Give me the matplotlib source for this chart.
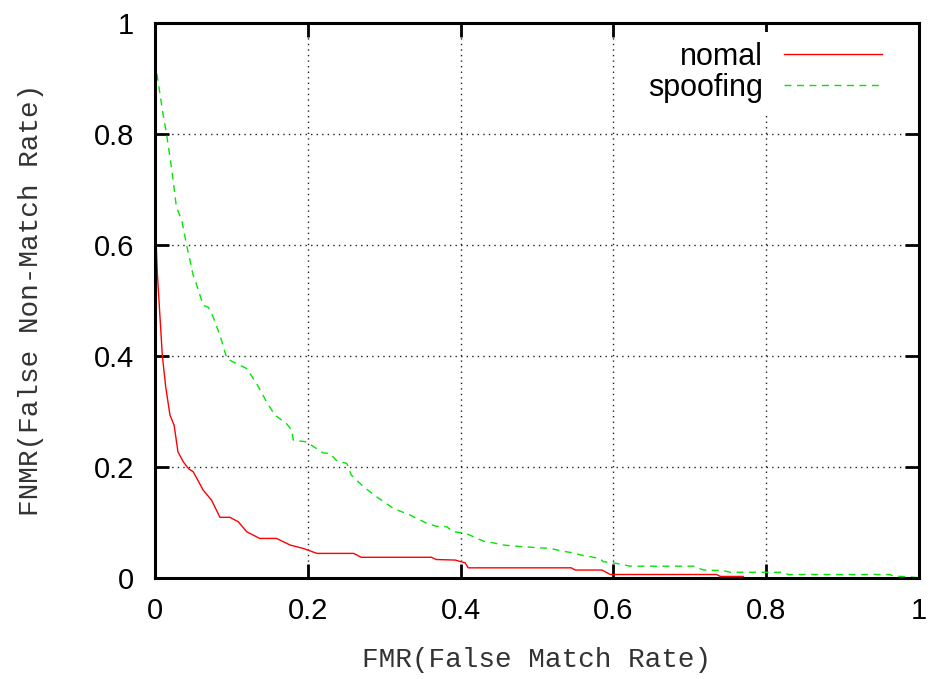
import matplotlib
matplotlib.use("Agg")
import matplotlib.pyplot as plt

# DET curves: FMR (x) vs FNMR (y)
normal_fmr = [0.0, 0.001, 0.003, 0.0065, 0.0096, 0.014, 0.0196, 0.025, 0.030, 0.037,
              0.0436, 0.050, 0.056, 0.063, 0.074, 0.085, 0.098, 0.109, 0.120, 0.137,
              0.159, 0.177, 0.194, 0.212, 0.260, 0.270, 0.362, 0.368, 0.393, 0.406,
              0.410, 0.545, 0.550, 0.585, 0.596, 0.735, 0.740, 0.770]
normal_fnmr = [0.68, 0.62, 0.55, 0.47, 0.40, 0.344, 0.293, 0.275, 0.227, 0.209,
               0.197, 0.191, 0.176, 0.158, 0.140, 0.109, 0.109, 0.101, 0.083, 0.071,
               0.071, 0.059, 0.053, 0.044, 0.044, 0.037, 0.037, 0.033, 0.032, 0.027,
               0.018, 0.018, 0.014, 0.014, 0.006, 0.006, 0.0025, 0.0025]

spoof_fmr = [0.0, 0.003, 0.011, 0.015, 0.022, 0.028, 0.035, 0.041, 0.050, 0.054,
             0.063, 0.070, 0.076, 0.081, 0.087, 0.094, 0.102, 0.120, 0.133, 0.146,
             0.157, 0.172, 0.179, 0.181, 0.198, 0.220, 0.229, 0.237, 0.251, 0.257,
             0.273, 0.290, 0.312, 0.334, 0.356, 0.368, 0.382, 0.390, 0.404, 0.412,
             0.430, 0.443, 0.456, 0.482, 0.517, 0.534, 0.547, 0.558, 0.582, 0.587,
             0.604, 0.622, 0.705, 0.718, 0.744, 0.753, 0.822, 0.829, 0.962, 0.967,
             0.986, 1.0]
spoof_fnmr = [0.93, 0.903, 0.831, 0.80, 0.735, 0.668, 0.644, 0.602, 0.545, 0.53,
              0.491, 0.487, 0.47, 0.452, 0.428, 0.395, 0.389, 0.377, 0.35, 0.317,
              0.293, 0.278, 0.266, 0.248, 0.245, 0.225, 0.224, 0.212, 0.206, 0.185,
              0.164, 0.146, 0.125, 0.113, 0.098, 0.093, 0.092, 0.083, 0.081, 0.077,
              0.066, 0.063, 0.059, 0.056, 0.053, 0.048, 0.045, 0.041, 0.035, 0.029,
              0.026, 0.021, 0.021, 0.014, 0.013, 0.010, 0.010, 0.006, 0.006, 0.003,
              0.002, 0.0]

ticks = [0, 0.2, 0.4, 0.6, 0.8, 1]
tick_labels = ["0", "0.2", "0.4", "0.6", "0.8", "1"]

plt.rcParams["font.family"] = ["Liberation Sans", "DejaVu Sans"]

fig = plt.figure(figsize=(9.31, 6.79), dpi=100)
ax = fig.add_axes([0.1665, 0.149, 0.8205, 0.8176])

ax.plot(normal_fmr, normal_fnmr, color="#ff0000", lw=1.0, label="nomal")
ax.plot(spoof_fmr, spoof_fnmr, color="#00e600", lw=1.0, dashes=(5, 4),
        label="spoofing")

ax.set_xlim(0, 1)
ax.set_ylim(0, 1)
ax.set_xticks(ticks)
ax.set_xticklabels(tick_labels)
ax.set_yticks(ticks)
ax.set_yticklabels(tick_labels)
ax.tick_params(direction="in", length=10, width=2, labelsize=21, pad=14,
               top=True, right=True)
ax.tick_params(axis="y", pad=15)
for s in ax.spines.values():
    s.set_linewidth(2.2)

ax.grid(True, color="#222222", linestyle=(0, (1, 3)), linewidth=1.0)

ax.set_xlabel("FMR(False Match Rate)", family="Liberation Mono", fontsize=20,
              color="#333333", labelpad=16)
ax.set_ylabel("FNMR(False Non-Match Rate)", family="Liberation Mono", fontsize=20,
              color="#333333", labelpad=36)

leg = ax.legend(loc="upper right", bbox_to_anchor=(0.976, 0.999),
                markerfirst=False, fontsize=22,
                handlelength=3.2, handletextpad=0.7, labelspacing=0.05,
                frameon=True, framealpha=1.0, fancybox=False,
                borderaxespad=0.3, borderpad=0.3)
leg.get_frame().set_edgecolor("none")
for t in leg.get_texts():
    t.set_ha("right")

fig.savefig("out.png", dpi=100)
